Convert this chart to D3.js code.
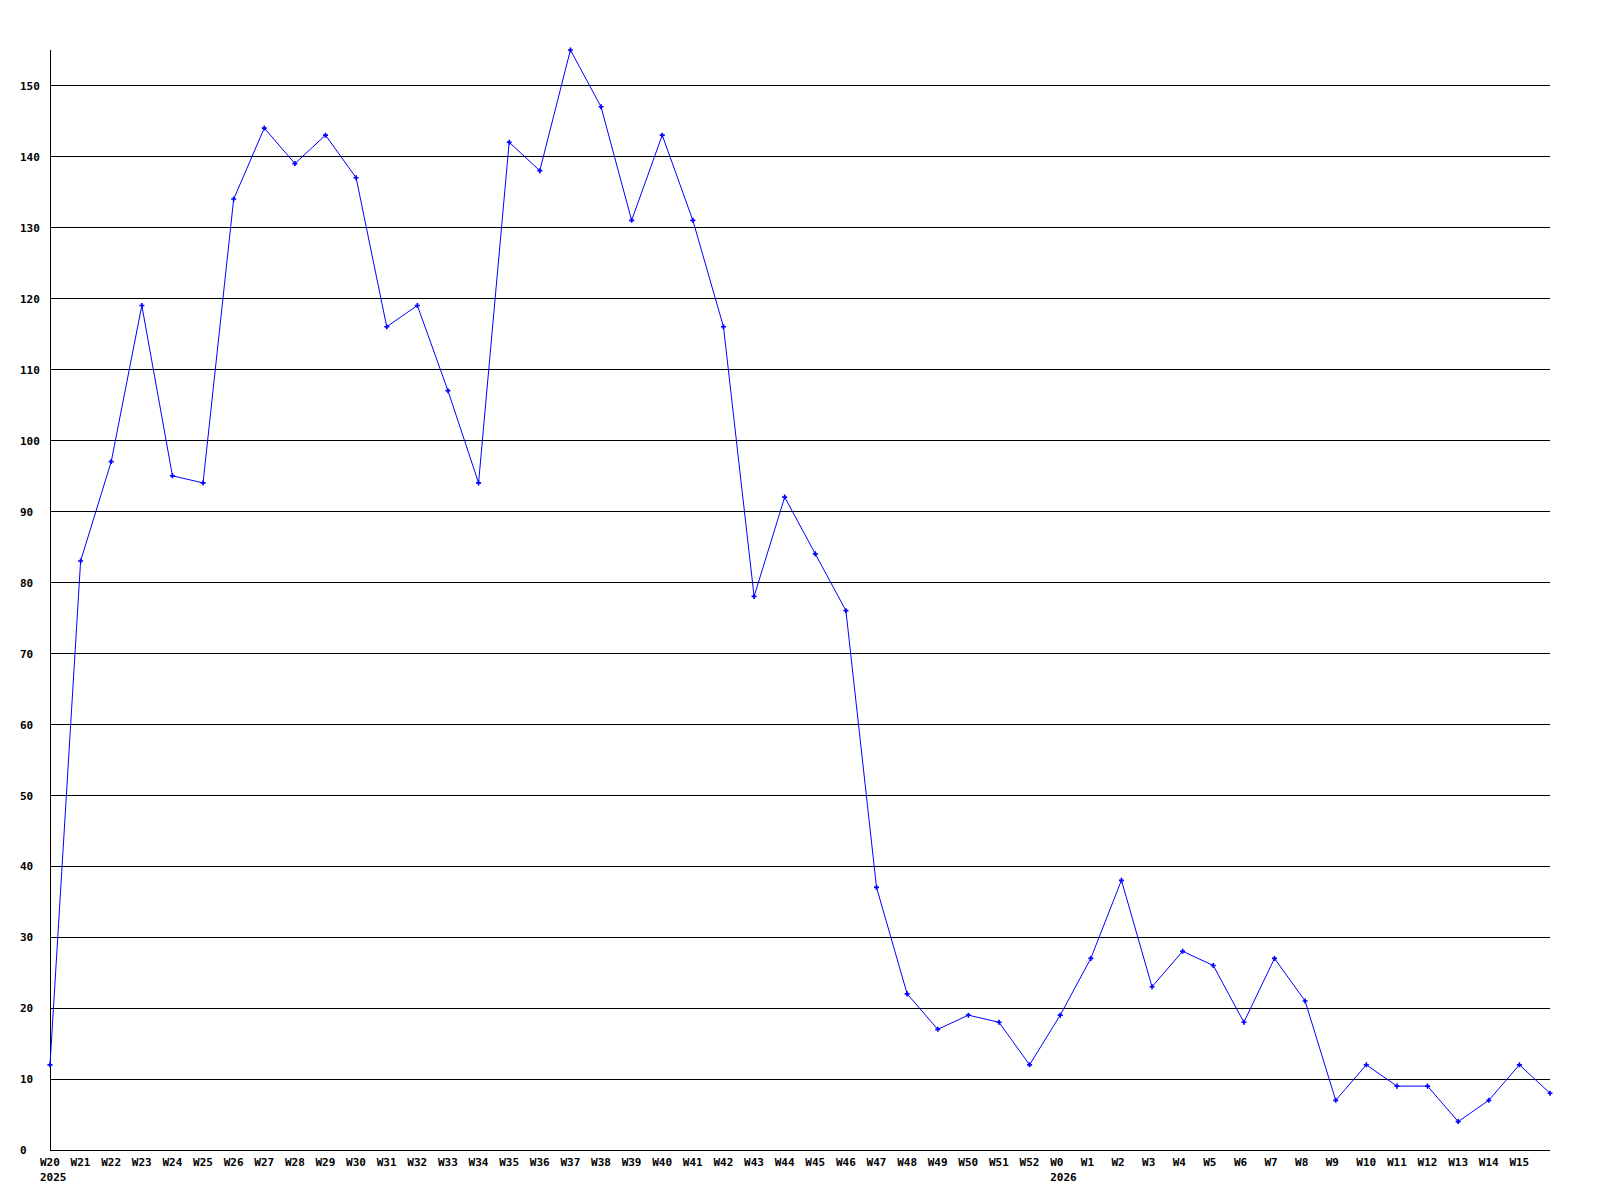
<!DOCTYPE html>
<html>
<head>
<meta charset="utf-8">
<script src="https://cdn.jsdelivr.net/npm/d3@7"></script>
<style>
  body { margin: 0; background: #fff; }
  text { font-family: "DejaVu Sans Mono", monospace; font-weight: bold; font-size: 11px; fill: #000; }
</style>
</head>
<body>
<svg width="1600" height="1200"></svg>
<script>
const weeks = ["W20", "W21", "W22", "W23", "W24", "W25", "W26", "W27", "W28", "W29",
    "W30", "W31", "W32", "W33", "W34", "W35", "W36", "W37", "W38", "W39",
    "W40", "W41", "W42", "W43", "W44", "W45", "W46", "W47", "W48", "W49",
    "W50", "W51", "W52", "W0", "W1", "W2", "W3", "W4", "W5", "W6",
    "W7", "W8", "W9", "W10", "W11", "W12", "W13", "W14", "W15", ""];
const years = { "W20": "2025", "W0": "2026" };
const counts = [12, 83, 97, 119, 95, 94, 134, 144, 139, 143,
    137, 116, 119, 107, 94, 142, 138, 155, 147, 131,
    143, 131, 116, 78, 92, 84, 76, 37, 22, 17,
    19, 18, 12, 19, 27, 38, 23, 28, 26, 18,
    27, 21, 7, 12, 9, 9, 4, 7, 12, 8];
const yTicks = d3.range(0, 151, 10);

(() => {
    const left = 50, right = 1550, top = 50, bottom = 1150;

    const xScale = d3.scaleLinear()
        .domain([0, counts.length - 1])
        .range([left, right]);

    const yScale = d3.scaleLinear()
        .domain([0, d3.max(counts)])
        .range([bottom, top]);

    const svg = d3.select("svg");

    // horizontal grid + y labels
    const yAxis = svg.append("g")
        .attr("transform", `translate(${left},0)`)
        .call(d3.axisLeft(yScale).tickValues(yTicks).tickSize(-(right - left)).tickSizeOuter(0).tickFormat(d3.format("d")));
    yAxis.select(".domain").remove();
    yAxis.selectAll(".tick line")
        .attr("stroke", "#000")
        .attr("shape-rendering", "crispEdges")
        .filter(d => d === 0).remove();
    yAxis.selectAll(".tick text")
        .attr("x", -30)
        .attr("dy", "0.35em")
        .attr("text-anchor", "start")
        .attr("font-family", null)
        .attr("font-size", null);

    // axes lines
    svg.append("line")
        .attr("x1", left).attr("x2", left)
        .attr("y1", top).attr("y2", bottom)
        .attr("stroke", "#000")
        .attr("shape-rendering", "crispEdges");
    svg.append("line")
        .attr("x1", left).attr("x2", right)
        .attr("y1", bottom).attr("y2", bottom)
        .attr("stroke", "#000")
        .attr("shape-rendering", "crispEdges");

    // x labels
    const xl = svg.append("g");
    xl.selectAll("text.week")
        .data(weeks)
        .enter()
        .append("text")
        .attr("class", "week")
        .attr("x", (d, i) => xScale(i) - 10)
        .attr("y", 1166)
        .text(d => d);
    xl.selectAll("text.year")
        .data(weeks.map((w, i) => ({ w, i })).filter(d => years[d.w]))
        .enter()
        .append("text")
        .attr("class", "year")
        .attr("x", d => xScale(d.i) - 10)
        .attr("y", 1181)
        .text(d => years[d.w]);

    const line = d3.line()
        .x((d, i) => xScale(i))
        .y(d => yScale(d));

    svg.append("path")
        .datum(counts)
        .attr("fill", "none")
        .attr("stroke", "#0000ff")
        .attr("stroke-width", 1)
        .attr("d", line);

    svg.selectAll("path.mark")
        .data(counts)
        .enter()
        .append("path")
        .attr("class", "mark")
        .attr("fill", "#0000ff")
        .attr("d", d3.symbol(d3.symbolCross).size(14))
        .attr("transform", (d, i) => `translate(${xScale(i)},${yScale(d)})`);
})();
</script>
</body>
</html>
